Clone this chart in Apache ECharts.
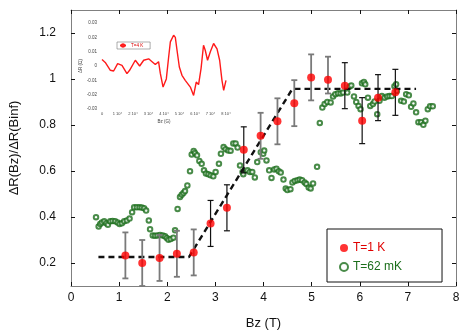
<!DOCTYPE html>
<html>
<head>
<meta charset="utf-8">
<script src="https://cdn.jsdelivr.net/npm/echarts@6/dist/echarts.min.js"></script>
<style>
  html, body { margin: 0; padding: 0; background: #fff; }
  #chart { width: 463px; height: 335px; }
</style>
</head>
<body>
<div id="chart"></div>
<script>
// T=1 K points with error bars
const hotX = [1.13, 1.48, 1.84, 2.2, 2.55, 2.9, 3.24, 3.59, 3.94, 4.29, 4.64, 4.99, 5.34, 5.69, 6.05, 6.38, 6.74]
const hotY = [0.233, 0.200, 0.222, 0.240, 0.246, 0.372, 0.440, 0.692, 0.753, 0.816, 0.895, 1.007, 0.997, 0.971, 0.819, 0.919, 0.942]
const errLow = [0.1, 0.1, 0.1, 0.1, 0.1, 0.1, 0.1, 0.1, 0.1, 0.1, 0.1, 0.1, 0.06, 0.1, 0.1, 0.1, 0.1]
const errHigh = [0.1, 0.1, 0.1, 0.1, 0.1, 0.1, 0.1, 0.1, 0.1, 0.1, 0.1, 0.1, 0.1, 0.1, 0.1, 0.1, 0.1]
const errGray = [1, 1, 1, 1, 1, 0, 0, 0, 1, 1, 1, 1, 1, 0, 0, 0, 0]

// T=62 mK points
const coldX = [0.52, 0.574, 0.607, 0.642, 0.69, 0.732, 0.767, 0.815, 0.864, 0.918, 0.968, 1.009, 1.057, 1.105, 1.161, 1.217,
  1.27, 1.312, 1.368, 1.424, 1.471, 1.519, 1.561, 1.617, 1.643, 1.699, 1.747, 1.797, 1.851, 1.907, 1.954, 1.99, 2.025,
  2.073, 2.128, 2.162, 2.215, 2.265, 2.3, 2.336, 2.369, 2.418, 2.473, 2.508, 2.549, 2.576, 2.618, 2.667, 2.715, 2.763,
  2.804, 2.854, 2.902, 2.957, 3.005, 3.074, 3.115, 3.171, 3.212, 3.268, 3.316, 3.372, 3.42, 3.461, 3.512, 3.565, 3.58,
  3.668, 3.716, 3.766, 3.82, 3.87, 3.944, 3.994, 4.014, 4.062, 4.118, 4.166, 4.222, 4.269, 4.317, 4.358, 4.415, 4.462,
  4.497, 4.56, 4.601, 4.649, 4.705, 4.752, 4.802, 4.856, 4.891, 4.939, 4.98, 5.03, 5.113, 5.17, 5.223, 5.27, 5.326,
  5.395, 5.445, 5.492, 5.548, 5.602, 5.652, 5.741, 5.789, 5.824, 5.88, 5.927, 5.975, 6.017, 6.046, 6.087, 6.114, 6.17,
  6.218, 6.274, 6.307, 6.363, 6.41, 6.46, 6.514, 6.57, 6.618, 6.667, 6.721, 6.756, 6.771, 6.86, 6.916, 6.964, 7.02,
  7.067, 7.115, 7.171, 7.219, 7.275, 7.322, 7.364, 7.414, 7.461, 7.517]
const coldY = [0.399, 0.359, 0.37, 0.376, 0.381, 0.373, 0.366, 0.381, 0.383, 0.382, 0.376, 0.37, 0.373, 0.381, 0.385, 0.393,
  0.421, 0.442, 0.442, 0.442, 0.441, 0.438, 0.428, 0.385, 0.347, 0.32, 0.319, 0.32, 0.322, 0.32, 0.316, 0.309, 0.301,
  0.304, 0.31, 0.342, 0.435, 0.487, 0.497, 0.504, 0.513, 0.537, 0.599, 0.672, 0.687, 0.678, 0.668, 0.644, 0.631, 0.603,
  0.589, 0.586, 0.581, 0.577, 0.596, 0.632, 0.675, 0.704, 0.695, 0.689, 0.688, 0.72, 0.72, 0.702, 0.624, 0.596, 0.586,
  0.603, 0.596, 0.596, 0.572, 0.639, 0.682, 0.675, 0.689, 0.646, 0.603, 0.57, 0.607, 0.61, 0.599, 0.593, 0.563, 0.524,
  0.517, 0.521, 0.55, 0.557, 0.56, 0.563, 0.56, 0.55, 0.543, 0.528, 0.524, 0.546, 0.618, 0.809, 0.876, 0.891, 0.9,
  0.898, 0.924, 0.934, 0.938, 0.937, 0.941, 0.941, 0.967, 0.972, 0.924, 0.9, 0.883, 0.869, 0.981, 0.987, 0.977, 0.919,
  0.883, 0.891, 0.902, 0.847, 0.905, 0.926, 0.919, 0.924, 0.926, 0.926, 0.969, 0.977, 0.948, 0.905, 0.902, 0.934, 0.929,
  0.879, 0.894, 0.855, 0.812, 0.812, 0.801, 0.819, 0.869, 0.881, 0.881]

// dashed guide line
const fitX = [0.57, 2.45, 4.6, 7.17]
const fitY = [0.226, 0.226, 0.957, 0.957]

// inset: T=4 K trace
const insetX = [0, 2100, 5400, 7500, 10100, 12900, 16100, 17800, 21500, 24300, 26900, 30100, 32300, 34400, 36500, 37600,
  39400, 41500, 43000, 44100, 46200, 47300, 48400, 49900, 51600, 53700, 54800, 57000, 59100, 60800, 62300, 63900,
  65500, 66600, 68100, 69900, 72000, 74200, 75900, 77400, 78500, 80000]
const insetY = [0.0045, 0.0025, -0.003, -0.0035, 0.0017, 0.0005, -0.0053, -0.003, 0.004, 0, 0.004, 0.005, 0.003, 0.001,
  0.003, -0.005, -0.0147, -0.009, 0.0063, 0.0168, 0.0215, 0.02, 0.011, -0.0007, -0.0065, -0.010, -0.009, -0.0147,
  -0.0205, -0.0112, -0.013, -0.0018, 0.0145, 0.011, 0.004, 0.010, 0.0157, 0.012, 0.004, -0.010, -0.017, -0.010]

const yTicks = [0.2, 0.4, 0.6, 0.8, 1.0, 1.2]

const font = 'Liberation Sans, Arial, sans-serif'
const chart = echarts.init(document.getElementById('chart'))

const frameAxis = {
  axisLine: { show: true, onZero: false, lineStyle: { color: '#808080', width: 1 } },
  axisTick: { show: true, inside: true, length: 4, lineStyle: { color: '#111' } },
  splitLine: { show: false }
}

const option = {
  animation: false,
  backgroundColor: '#fff',
  textStyle: { fontFamily: font },
  grid: [
    { left: 69, right: 7, top: 10, bottom: 47 },
    { left: 102, top: 23, width: 124, height: 86 }
  ],
  legend: [
    {
      data: [
        { name: 'T=1 K', icon: 'circle', textStyle: { color: '#e00000' } },
        { name: 'T=62 mK', icon: 'emptyCircle', itemStyle: { borderWidth: 1 }, textStyle: { color: '#1b6e1b' } }
      ],
      orient: 'vertical',
      left: 327,
      top: 229,
      itemWidth: 8,
      itemHeight: 8,
      itemGap: 7,
      padding: [13, 40, 9, 12],
      borderColor: '#111',
      borderWidth: 1,
      backgroundColor: '#fff',
      textStyle: { fontSize: 12, fontFamily: font }
    },
    {
      data: ['T=4 K'],
      left: 117,
      top: 42,
      itemWidth: 6,
      itemHeight: 3,
      padding: [1, 7, 1, 2],
      borderColor: '#777',
      borderWidth: 0.6,
      textStyle: { fontSize: 4.5, color: '#d00', fontFamily: font }
    }
  ],
  xAxis: [
    {
      ...frameAxis,
      type: 'value', gridIndex: 0, min: 0, max: 8, interval: 1,
      name: 'Bz (T)', nameLocation: 'middle', nameGap: 31,
      nameTextStyle: { fontSize: 13, color: '#111', fontFamily: font },
      axisLabel: { fontSize: 12, color: '#111', margin: 6 }
    },
    {
      ...frameAxis,
      type: 'value', gridIndex: 0, position: 'top', min: 0, max: 8, interval: 1,
      axisLabel: { show: false }
    },
    {
      type: 'value', gridIndex: 1, min: 0, max: 80000, interval: 10000,
      name: 'Bz (G)', nameLocation: 'middle', nameGap: 10,
      nameTextStyle: { fontSize: 4.5, color: '#444' },
      axisLine: { show: false }, axisTick: { show: false }, splitLine: { show: false },
      axisLabel: {
        fontSize: 4, color: '#444', margin: 3,
        formatter: (v) => (v === 0 ? '0' : v / 10000 + ' 10⁴')
      }
    }
  ],
  yAxis: [
    {
      ...frameAxis,
      type: 'value', gridIndex: 0, min: 0.1, max: 1.3,
      axisTick: { ...frameAxis.axisTick, customValues: yTicks },
      name: 'ΔR(Bz)/ΔR(Binf)', nameLocation: 'middle', nameGap: 50,
      nameTextStyle: { fontSize: 13, color: '#111', fontFamily: font },
      axisLabel: {
        fontSize: 12, color: '#111', margin: 15, customValues: yTicks,
        formatter: (v) => String(+v.toFixed(1))
      }
    },
    {
      ...frameAxis,
      type: 'value', gridIndex: 0, position: 'right', min: 0.1, max: 1.3,
      axisTick: { ...frameAxis.axisTick, customValues: yTicks },
      axisLabel: { show: false }
    },
    {
      type: 'value', gridIndex: 1, min: -0.03, max: 0.03, interval: 0.01,
      name: 'ΔR (Ω)', nameLocation: 'middle', nameGap: 14,
      nameTextStyle: { fontSize: 4.5, color: '#444' },
      axisLine: { show: false }, axisTick: { show: false }, splitLine: { show: false },
      axisLabel: {
        fontSize: 4.5, color: '#444', margin: 5,
        formatter: (v) => String(+v.toFixed(2))
      }
    }
  ],
  series: [
    {
      name: 'T=62 mK',
      type: 'scatter',
      xAxisIndex: 0, yAxisIndex: 0,
      symbol: 'emptyCircle',
      symbolSize: 4.5,
      itemStyle: { color: '#1b6e1b', borderWidth: 0.8 },
      data: coldX.map((x, i) => [x, coldY[i]]),
      z: 2
    },
    {
      type: 'line',
      xAxisIndex: 0, yAxisIndex: 0,
      showSymbol: false,
      lineStyle: { color: '#111', width: 2.4, type: [6, 4] },
      data: fitX.map((x, i) => [x, fitY[i]]),
      z: 3
    },
    {
      type: 'custom',
      xAxisIndex: 0, yAxisIndex: 0,
      data: hotX.map((x, i) => [x, hotY[i] - errLow[i], hotY[i] + errHigh[i]]),
      encode: { x: 0, y: [1, 2] },
      renderItem: (params, api) => {
        const x = api.value(0)
        const lo = api.coord([x, api.value(1)])
        const hi = api.coord([x, api.value(2)])
        const gray = errGray[params.dataIndex]
        const style = { stroke: gray ? '#7a7a7a' : '#111', lineWidth: gray ? 1.8 : 1.2 }
        const cap = 3
        return {
          type: 'group',
          children: [
            { type: 'line', shape: { x1: lo[0], y1: lo[1], x2: hi[0], y2: hi[1] }, style },
            { type: 'line', shape: { x1: hi[0] - cap, y1: hi[1], x2: hi[0] + cap, y2: hi[1] }, style },
            { type: 'line', shape: { x1: lo[0] - cap, y1: lo[1], x2: lo[0] + cap, y2: lo[1] }, style }
          ]
        }
      },
      z: 4
    },
    {
      name: 'T=1 K',
      type: 'scatter',
      xAxisIndex: 0, yAxisIndex: 0,
      symbol: 'circle',
      symbolSize: 8,
      itemStyle: { color: '#ff0000' },
      data: hotX.map((x, i) => [x, hotY[i]]),
      z: 5
    },
    {
      name: 'T=4 K',
      type: 'line',
      xAxisIndex: 2, yAxisIndex: 2,
      showSymbol: false,
      lineStyle: { color: '#ff1a1a', width: 1.4 },
      itemStyle: { color: '#ff1a1a' },
      data: insetX.map((x, i) => [x, insetY[i]]),
      z: 6
    }
  ]
}

chart.setOption(option)
</script>
</body>
</html>
